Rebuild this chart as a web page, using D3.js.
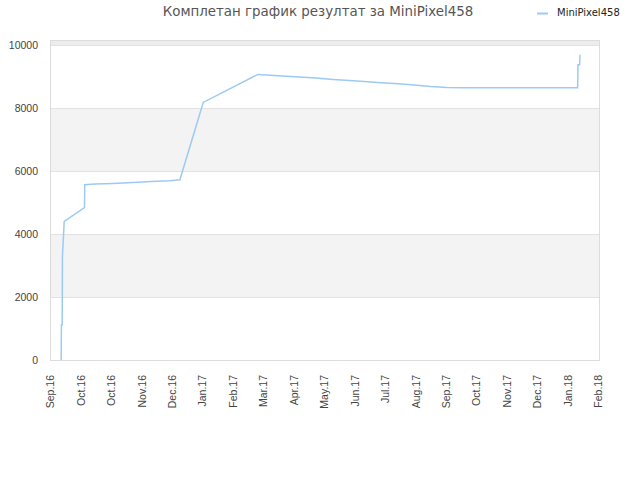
<!DOCTYPE html>
<html>
<head>
<meta charset="utf-8">
<script src="https://cdn.jsdelivr.net/npm/d3@7"></script>
<style>
  body { margin: 0; background: #fff; }
  svg { font-family: "DejaVu Sans", sans-serif; }
</style>
</head>
<body>
<svg id="chart" width="640" height="480"></svg>
<script>
// chart data
var title = "Комплетан график резултат за MiniPixel458";
var seriesName = "MiniPixel458";

var dates = [
    "2016-09-12", "2016-09-12", "2016-09-13", "2016-09-13", "2016-09-15",
    "2016-10-05", "2016-10-05", "2016-10-15", "2016-11-02", "2016-11-22",
    "2016-12-10", "2016-12-28", "2017-01-07", "2017-01-30", "2017-03-25",
    "2017-04-02", "2017-04-18", "2017-05-05", "2017-05-21", "2017-06-07",
    "2017-06-23", "2017-07-08", "2017-07-24", "2017-08-10", "2017-08-26",
    "2017-09-11", "2017-09-27", "2017-10-13", "2018-02-03", "2018-02-03",
    "2018-02-05", "2018-02-05"
];
var scores = [
    0, 1120, 1120, 3290, 4400,
    4840, 5565, 5587, 5606, 5638,
    5670, 5692, 5724, 8178, 9067,
    9048, 9016, 8984, 8952, 8908,
    8876, 8844, 8803, 8771, 8730,
    8686, 8654, 8644, 8644, 9375,
    9375, 9692
];

// ticks every 30 days, starting Sep 1 2016
var tickStart = "2016-09-01";
var tickCount = 19;
var tickStepDays = 30;
var yTicks = [0, 2000, 4000, 6000, 8000, 10000];

var parse = d3.timeParse("%Y-%m-%d");
var fmt = d3.timeFormat("%b.%y");

var margin = {left: 50, right: 40, top: 40, bottom: 120};
var W = 640, H = 480;

var svg = d3.select("#chart");

var x = d3.scaleTime()
    .domain([parse("2016-09-01"), parse("2018-02-25")])
    .range([margin.left, W - margin.right]);

var y = d3.scaleLinear()
    .domain([0, 10160])
    .range([H - margin.bottom, margin.top]);

// alternating bands
var bands = [[2000, 4000], [6000, 8000], [10000, 10160]];
svg.append("g").selectAll("rect")
    .data(bands)
    .enter().append("rect")
    .attr("x", margin.left)
    .attr("width", W - margin.right - margin.left)
    .attr("y", function(d) { return y(d[1]); })
    .attr("height", function(d) { return y(d[0]) - y(d[1]); })
    .attr("fill", function(d) { return d[0] == 10000 ? "#ededed" : "#f3f3f3"; });

// gridlines
svg.append("g").selectAll("line")
    .data(yTicks)
    .enter().append("line")
    .attr("x1", margin.left)
    .attr("x2", W - margin.right)
    .attr("y1", function(d) { return Math.round(y(d)) + 0.5; })
    .attr("y2", function(d) { return Math.round(y(d)) + 0.5; })
    .attr("stroke", "#e2e2e2");

// plot border
svg.append("rect")
    .attr("x", margin.left + 0.5)
    .attr("y", margin.top + 0.5)
    .attr("width", W - margin.right - margin.left - 1)
    .attr("height", H - margin.bottom - margin.top)
    .attr("fill", "none")
    .attr("stroke", "#dcdcdc");

// y axis
var yAxis = d3.axisLeft(y).tickValues(yTicks).tickFormat(d3.format("d"))
    .tickSize(0).tickPadding(12);
var gy = svg.append("g")
    .attr("transform", "translate(" + margin.left + ",0)")
    .call(yAxis);
gy.select(".domain").remove();
gy.selectAll("text").attr("fill", "#444").style("font-size", "10.5px");

// x axis
var xTicks = d3.range(tickCount).map(function(i) {
    return d3.timeDay.offset(parse(tickStart), i * tickStepDays);
});
var xAxis = d3.axisBottom(x).tickValues(xTicks).tickFormat(fmt).tickSize(0).tickPadding(0);
var gx = svg.append("g")
    .attr("transform", "translate(0," + (H - margin.bottom) + ")")
    .call(xAxis);
gx.select(".domain").remove();
gx.selectAll("text")
    .attr("fill", "#444")
    .style("font-size", "10.5px")
    .attr("text-anchor", "end")
    .attr("dy", "0.35em")
    .attr("transform", "translate(0,15) rotate(-90)")
    .attr("x", 0)
    .attr("y", 0);

// line
var pts = dates.map(function(d, i) { return {date: parse(d), v: scores[i]}; });
// same-day points: nudge later ones a few hours so vertical jumps sit right
for (var i = 1; i < pts.length; i++) {
    if (dates[i] == dates[i - 1]) pts[i].date = d3.timeHour.offset(pts[i - 1].date, 6);
}

var line = d3.line()
    .x(function(d) { return x(d.date); })
    .y(function(d) { return y(d.v); });

svg.append("path")
    .datum(pts)
    .attr("d", line)
    .attr("fill", "none")
    .attr("stroke", "#9ccaf5")
    .attr("stroke-width", 1.5);

// title
svg.append("text")
    .attr("x", 318)
    .attr("y", 16)
    .attr("text-anchor", "middle")
    .attr("fill", "#555")
    .style("font-size", "13.4px")
    .text(title);

// legend
svg.append("line")
    .attr("x1", 537).attr("x2", 548)
    .attr("y1", 13.5).attr("y2", 13.5)
    .attr("stroke", "#9ccaf5")
    .attr("stroke-width", 2);
svg.append("text")
    .attr("x", 557)
    .attr("y", 16)
    .attr("fill", "#222")
    .style("font-size", "10px")
    .text(seriesName);
</script>
</body>
</html>
